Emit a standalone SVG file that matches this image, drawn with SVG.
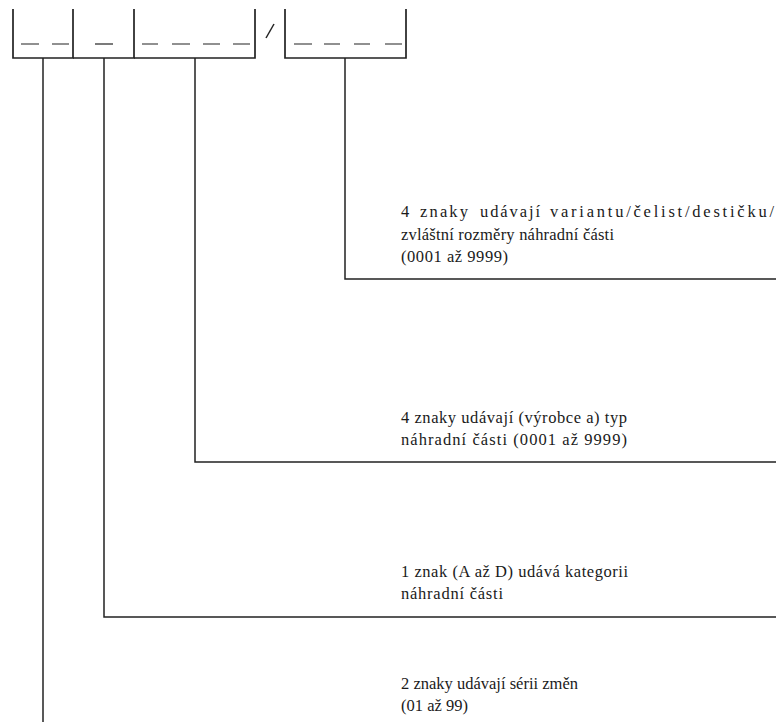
<svg xmlns="http://www.w3.org/2000/svg" width="776" height="722" viewBox="0 0 776 722">
  <style>
    .box { fill: none; stroke: #222; stroke-width: 1.7; }
    .ln { fill: none; stroke: #222; stroke-width: 1.5; }
    .dash { fill: none; stroke: #222; stroke-width: 1.2; }
    .lbl { font-family: "Liberation Serif", "DejaVu Serif", serif; font-size: 16.5px; fill: #1a1a1a; }
  </style>
  <rect width="776" height="722" fill="#fff"/>

  <!-- code field boxes -->
  <g id="field-series">
    <path class="box" d="M13 9 V58 H73 V9"/>
    <path class="dash" d="M21 44 H39 M52 44 H69"/>
  </g>
  <g id="field-category">
    <path class="box" d="M73 58 H134 V9"/>
    <path class="dash" d="M95 44 H113"/>
  </g>
  <g id="field-type">
    <path class="box" d="M134 58 H255 V9"/>
    <path class="dash" d="M142 44 H158 M172 44 H190 M203 44 H220 M233 44 H250"/>
  </g>
  <g id="separator">
    <path class="ln" d="M274 24 L266 38"/>
  </g>
  <g id="field-variant">
    <path class="box" d="M285 9 V58 H406 V9"/>
    <path class="dash" d="M294 44 H312 M324 44 H340 M354 44 H370 M385 44 H402"/>
  </g>

  <!-- leader lines -->
  <g id="connectors">
    <path class="ln" d="M345 58 V279 H776"/>
    <path class="ln" d="M195 58 V462 H776"/>
    <path class="ln" d="M104 58 V617 H776"/>
    <path class="ln" d="M43 58 V722"/>
  </g>

  <!-- descriptions -->
  <g id="desc-variant">
    <text class="lbl" y="217"><tspan x="401">4</tspan><tspan x="420" textLength="48" lengthAdjust="spacing">znaky</tspan><tspan x="480" textLength="60" lengthAdjust="spacing">udávají</tspan><tspan x="550" textLength="224" lengthAdjust="spacing">variantu/čelist/destičku/</tspan></text>
    <text class="lbl" x="401" y="240" textLength="213" lengthAdjust="spacing">zvláštní rozměry náhradní části</text>
    <text class="lbl" x="401" y="262" textLength="107" lengthAdjust="spacing">(0001 až 9999)</text>
  </g>
  <g id="desc-type">
    <text class="lbl" x="401" y="423" textLength="226" lengthAdjust="spacing">4 znaky udávají (výrobce a) typ</text>
    <text class="lbl" x="401" y="445" textLength="226" lengthAdjust="spacing">náhradní části (0001 až 9999)</text>
  </g>
  <g id="desc-category">
    <text class="lbl" x="401" y="577" textLength="227" lengthAdjust="spacing">1 znak (A až D) udává kategorii</text>
    <text class="lbl" x="401" y="599" textLength="102" lengthAdjust="spacing">náhradní části</text>
  </g>
  <g id="desc-series">
    <text class="lbl" x="401" y="689" textLength="177" lengthAdjust="spacing">2 znaky udávají sérii změn</text>
    <text class="lbl" x="401" y="711" textLength="67" lengthAdjust="spacing">(01 až 99)</text>
  </g>
</svg>
